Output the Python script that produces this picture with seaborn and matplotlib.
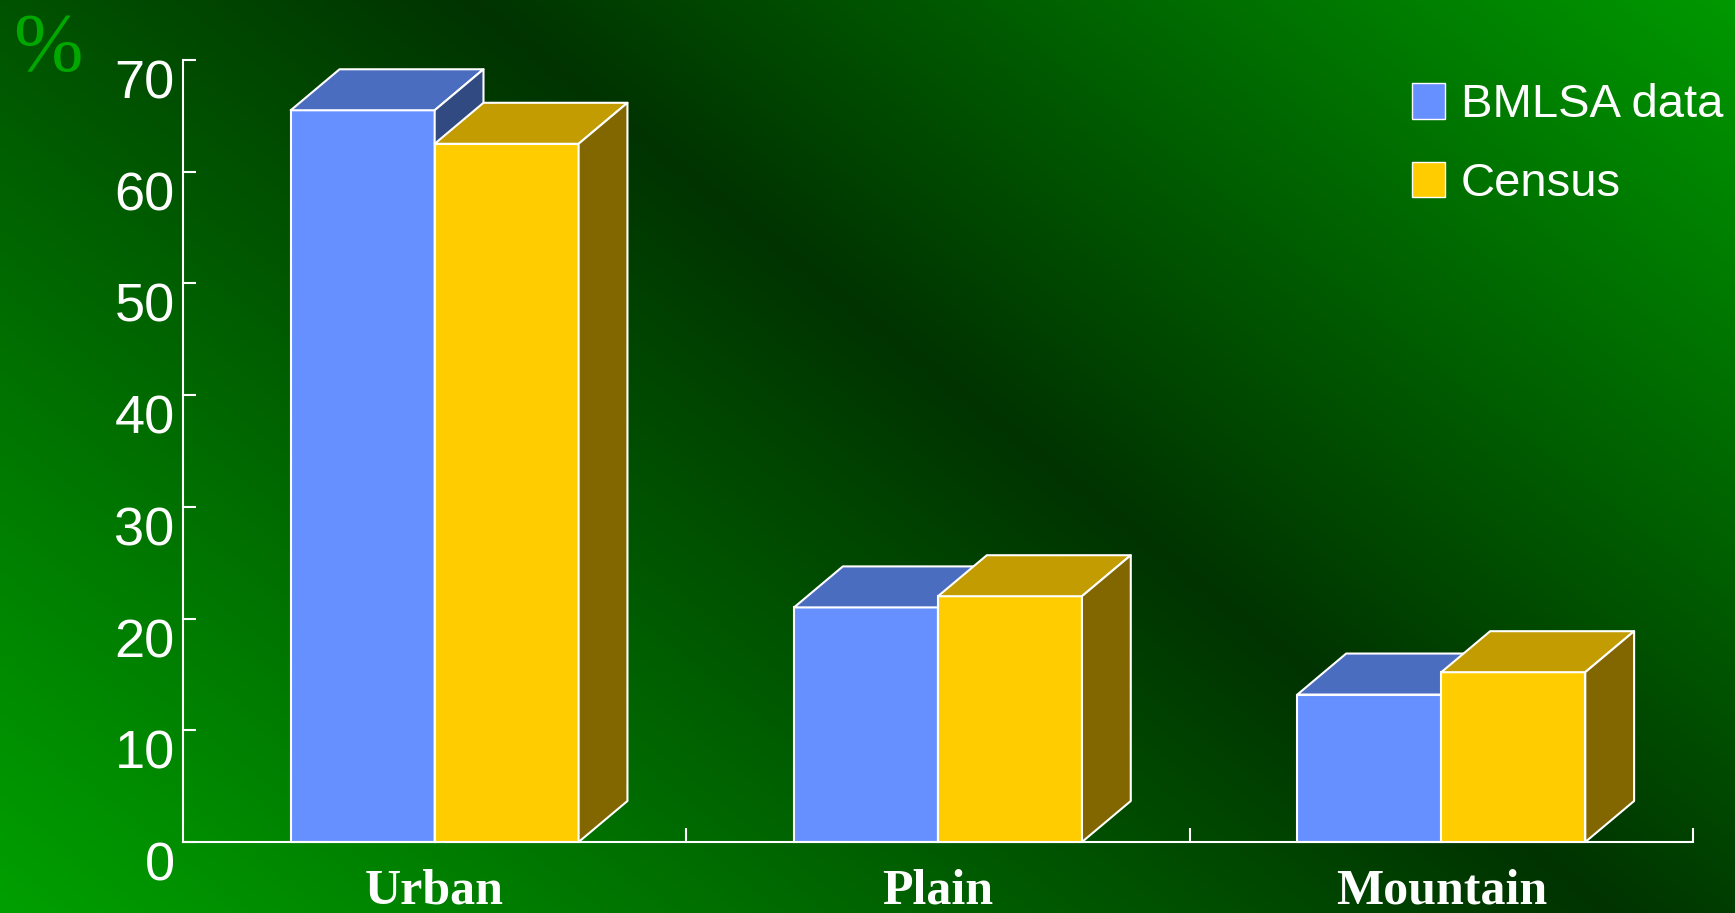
import numpy as np
import pandas as pd
import matplotlib
matplotlib.use("Agg")
import matplotlib.pyplot as plt
import matplotlib.transforms as mtransforms
from matplotlib.patches import Polygon, Patch
from matplotlib import font_manager
import seaborn as sns

# ---- data ----
regions = ["Urban", "Plain", "Mountain"]
sources = ["BMLSA data", "Census"]
bmlsa = [65.5, 21.0, 13.2]
census = [62.5, 22.0, 15.2]
y_ticks = [0, 10, 20, 30, 40, 50, 60, 70]

df = pd.DataFrame({
    "region": regions * 2,
    "source": [sources[0]] * 3 + [sources[1]] * 3,
    "pct": bmlsa + census,
})

# ---- styling ----
sns.set_theme(style="ticks")
names = {f.name for f in font_manager.fontManager.ttflist}


def pick(*cands):
    return next((c for c in cands if c in names), "DejaVu Sans")


SANS = pick("Liberation Sans Narrow", "Arial Narrow", "Liberation Sans", "Arial")
SERIF = pick("Liberation Serif", "Times New Roman", "DejaVu Serif")
narrow = "Narrow" in SANS
YS = 42 if narrow else 39
LS = 38 if narrow else 34
XS = 36

BLUE, BLUE_TOP, BLUE_SIDE = "#6690FF", "#4A6DBF", "#324A82"
YEL, YEL_TOP, YEL_SIDE = "#FFCC00", "#C29C00", "#826600"

W, H = 1735, 913
fig = plt.figure(figsize=(W / 100, H / 100), dpi=100)

# diagonal green background
bg = fig.add_axes([0, 0, 1, 1])
xx, yy = np.meshgrid(np.arange(W), np.arange(H))
s = (-0.8 * (xx - 720) + (yy - 200)) / 1.28
g = np.where(s >= 0, 0x33 + 109 * s / 1007, 0x33 + 102 * (-s) / 790)
g = np.clip(g, 0, 255) / 255.0
rgb = np.zeros((H, W, 3))
rgb[..., 1] = g
bg.imshow(rgb, aspect="auto", interpolation="bilinear")
bg.set_axis_off()

ax = fig.add_axes([183 / W, 71 / H, 1510 / W, 782 / H])
ax.set_facecolor("none")

sns.barplot(data=df, x="region", y="pct", hue="source", palette=[BLUE, YEL],
            width=0.572, saturation=1, edgecolor="white", linewidth=1.5,
            errorbar=None, legend=False, ax=ax)

# 3-D faces on each bar
DX, DY = 0.097, 3.67
blue_rgba = matplotlib.colors.to_rgba(BLUE)
for bar in list(ax.patches):
    is_blue = np.allclose(bar.get_facecolor()[:3], blue_rgba[:3], atol=0.02)
    top_c, side_c = (BLUE_TOP, BLUE_SIDE) if is_blue else (YEL_TOP, YEL_SIDE)
    z = 2 if is_blue else 3
    x0, w, h = bar.get_x(), bar.get_width(), bar.get_height()
    bar.set_zorder(z)
    bar.set_clip_on(False)
    top = [(x0, h), (x0 + w, h), (x0 + w + DX, h + DY), (x0 + DX, h + DY)]
    side = [(x0 + w, 0), (x0 + w, h), (x0 + w + DX, h + DY), (x0 + w + DX, DY)]
    for pts, c in ((top, top_c), (side, side_c)):
        ax.add_patch(Polygon(pts, closed=True, facecolor=c, edgecolor="white",
                             linewidth=1.5, zorder=z, clip_on=False,
                             joinstyle="round"))

ax.set_xlim(-0.5, 2.5)
ax.set_ylim(0, 70)
ax.set_xlabel("")
ax.set_ylabel("")
for side in ("top", "right"):
    ax.spines[side].set_visible(False)
for side in ("left", "bottom"):
    ax.spines[side].set_color("white")
    ax.spines[side].set_linewidth(1.5)

ax.set_yticks(y_ticks)
ax.set_yticklabels([str(t) for t in y_ticks])
ax.tick_params(axis="y", direction="in", length=9, width=1.5, color="white",
               labelcolor="white", labelsize=YS, pad=6)
offset = mtransforms.ScaledTranslation(0, -0.19, fig.dpi_scale_trans)
for lbl in ax.get_yticklabels():
    lbl.set_fontfamily(SANS)
    lbl.set_transform(lbl.get_transform() + offset)

ax.set_xticks(range(len(regions)))
ax.set_xticklabels(regions, fontfamily=SERIF, fontweight="bold",
                   fontsize=XS, color="white")
ax.tick_params(axis="x", which="major", length=0, pad=19)
ax.set_xticks([0.5, 1.5, 2.5], minor=True)
ax.tick_params(axis="x", which="minor", direction="in", length=10, width=1.5,
               color="white")

handles = [Patch(facecolor=BLUE, edgecolor="white", linewidth=1),
           Patch(facecolor=YEL, edgecolor="white", linewidth=1)]
fig.legend(handles, sources, loc="upper left",
           bbox_to_anchor=(1412 / W, 1 - 83 / H), frameon=False,
           prop={"family": SANS, "size": LS}, labelcolor="white",
           handlelength=0.7, handleheight=0.78, handletextpad=0.34,
           labelspacing=0.73, borderpad=0, borderaxespad=0)

fig.text(13 / W, 1 - 12 / H, "%", ha="left", va="top", color="#00A800",
         fontsize=60, family=SERIF)

fig.savefig("out.png", dpi=100)
